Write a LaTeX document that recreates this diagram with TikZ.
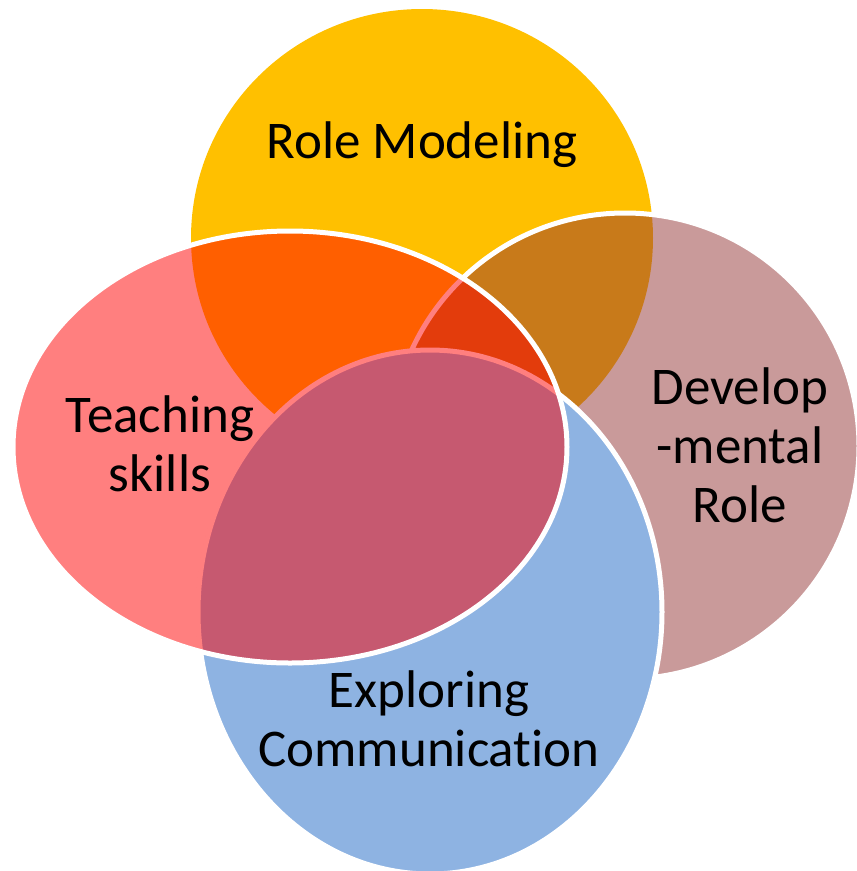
\documentclass[tikz,border=0pt]{standalone}
\usepackage{fontspec}
\setmainfont{Carlito}[Ligatures=NoCommon]
\definecolor{roleyellow}{RGB}{255,192,0}
\definecolor{devbrown}{RGB}{147,53,53}
\definecolor{explblue}{RGB}{142,179,226}
\definecolor{teachred}{RGB}{255,0,0}
\tikzset{vennline/.style={draw=white, line width=5pt}}
\begin{document}
\begin{tikzpicture}[x=1pt,y=-1pt, font=\fontsize{53}{59}\selectfont, line join=round, line cap=round]
	\useasboundingbox (0,0) rectangle (857,871);
	\fill[roleyellow] (422,238) ellipse [x radius=231, y radius=229];
	\filldraw[vennline, fill=devbrown, fill opacity=0.5] (625,446) ellipse [x radius=234, y radius=233];
	\filldraw[vennline, fill=explblue] (430,612) ellipse [x radius=232, y radius=262];
	\filldraw[vennline, fill=teachred, fill opacity=0.5] (290,447) ellipse [x radius=277, y radius=216];
	\node[anchor=base] (role) at (422,158) {Role Modeling};
	\node[align=center, inner sep=0pt] (teach) at (160,444) {Teaching\\skills};
	\node[align=center, inner sep=0pt] (dev) at (740,445) {Develop\\-mental\\Role};
	\node[align=center, inner sep=0pt] (expl) at (429,719) {Exploring\\Communication};
\end{tikzpicture}
\end{document}
